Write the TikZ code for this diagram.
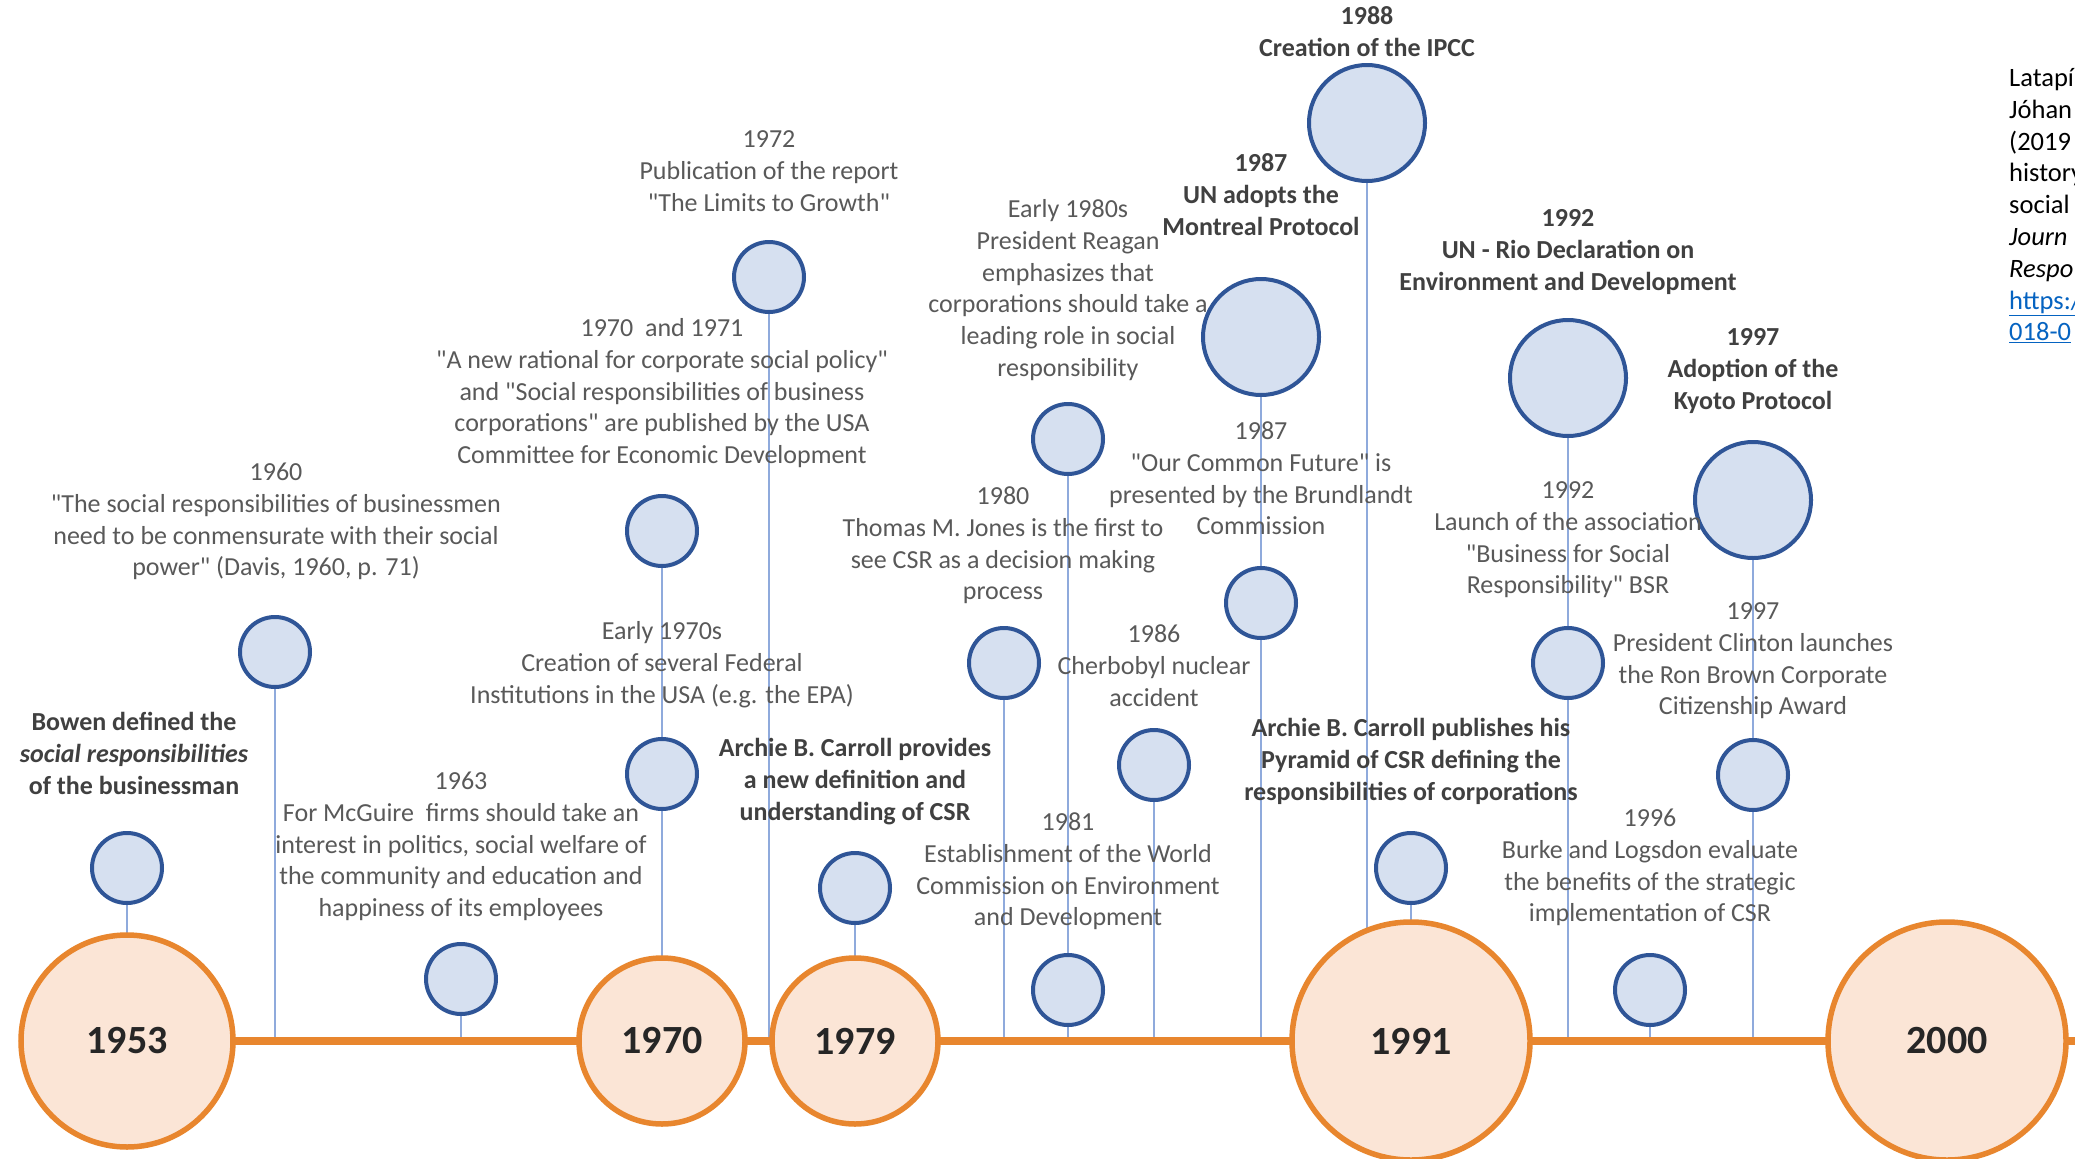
\documentclass[tikz,border=0pt]{standalone}
\usepackage{fontspec}
\setmainfont{Carlito}[Ligatures=TeXOff]
\newcommand{\dq}{\char34\relax}
\definecolor{evblue}{HTML}{2F5597}
\definecolor{evfill}{HTML}{D6E0F0}
\definecolor{orline}{HTML}{E8862E}
\definecolor{orfill}{HTML}{FBE5D6}
\definecolor{stemblue}{HTML}{8FAADC}
\definecolor{txtgray}{HTML}{595959}
\definecolor{boldgray}{HTML}{404040}
\definecolor{yrtext}{HTML}{262626}
\definecolor{linkblue}{HTML}{0563C1}
\pgfdeclarelayer{back}
\pgfdeclarelayer{bg}
\pgfsetlayers{back,bg,main}
\begin{document}
\begin{tikzpicture}[x=1pt,y=-1pt,
  ev/.style={circle, draw=evblue, fill=evfill, line width=4pt, minimum size=70pt, inner sep=0pt},
  bigev/.style={ev, minimum size=116pt},
  yr/.style={circle, draw=orline, fill=orfill, line width=5.5pt, inner sep=0pt, text=yrtext, font=\fontsize{40}{40}\selectfont\bfseries},
  stem/.style={draw=stemblue, line width=1.8pt},
  axisline/.style={draw=orline, line width=8pt},
  txt/.style={align=center, inner sep=0pt, anchor=north, text=txtgray, font=\fontsize{26}{31.8}\selectfont},
  btxt/.style={txt, text=boldgray, font=\fontsize{26}{31.8}\selectfont\bfseries},
  cite/.style={align=left, inner sep=0pt, anchor=north west, text=black, font=\fontsize{26.5}{31.8}\selectfont}]
\begin{pgfonlayer}{back}
\fill[white] (0,0) rectangle (2075,1159);
\end{pgfonlayer}
\useasboundingbox (0,0) rectangle (2075,1159);
\coordinate (axisR) at (2075,1041);

% year circles
\node[yr, minimum size=212pt] (y1953) at (127,1041) {1953};
\node[yr, minimum size=166pt] (y1970) at (662,1041) {1970};
\node[yr, minimum size=166pt] (y1979) at (855,1041) {1979};
\node[yr, minimum size=238pt] (y1991) at (1411,1041) {1991};
\node[yr, minimum size=238pt] (y2000) at (1947,1041) {2000};

% event circles
\node[ev] (bowen) at (127,868) {};
\node[ev] (e1960) at (275,652) {};
\node[ev] (e1963) at (461,979) {};
\node[ev] (e7071) at (662,531) {};
\node[ev] (e70s) at (662,774) {};
\node[ev] (e1972) at (769,277) {};
\node[ev] (e1979) at (855,888) {};
\node[ev] (e1980) at (1004,663) {};
\node[ev] (e80s) at (1068,439) {};
\node[ev] (e1981) at (1068,990) {};
\node[ev] (e1986) at (1154,765) {};
\node[bigev] (mont) at (1261,337) {};
\node[ev] (brund) at (1261,603) {};
\node[bigev] (ipcc) at (1367,123) {};
\node[ev] (e1991) at (1411,868) {};
\node[bigev] (rio) at (1568,378) {};
\node[ev] (bsr) at (1568,663) {};
\node[ev] (e1996) at (1650,990) {};
\node[bigev] (kyoto) at (1753,500) {};
\node[ev] (clint) at (1753,775) {};

\begin{pgfonlayer}{bg}
\foreach \n in {bowen,e1960,e1963,e7071,e1972,e1979,e1980,e80s,e1986,mont,ipcc,e1991,rio,e1996,kyoto}
  \draw[stem] (\n.south) -- (\n.south |- axisR);
\draw[axisline] (y1953.center) -- (axisR);
\end{pgfonlayer}

% texts
\node[btxt] (t1953) at (134,708) {\strut Bowen defined the\\ \textit{social responsibilities}\\ of the businessman};
\node[txt] (t1960) at (276,458) {\strut 1960\\ \dq The social responsibilities of businessmen\\ need to be conmensurate with their social\\ power\dq\ (Davis, 1960, p. 71)};
\node[txt] (t1963) at (461,767) {\strut 1963\\ For McGuire~ firms should take an\\ interest in politics, social welfare of\\ the community and education and\\ happiness of its employees};
\node[txt] (t7071) at (662,314) {\strut 1970~ and 1971\\ \dq A new rational for corporate social policy\dq\\ and \dq Social responsibilities of business\\ corporations\dq\ are published by the USA\\ Committee for Economic Development};
\node[txt] (t70s) at (662,617) {\strut Early 1970s\\ Creation of several Federal\\ Institutions in the USA (e.g. the EPA)};
\node[txt] (t1972) at (769,125) {\strut 1972\\ Publication of the report\\ \dq The Limits to Growth\dq};
\node[btxt] (t1979) at (855,734) {\strut Archie B. Carroll provides\\ a new definition and\\ understanding of CSR};
\node[txt] (t1980) at (1003,482) {\strut 1980\\ Thomas M. Jones is the first to\\ see CSR as a decision making\\ process};
\node[txt] (t80s) at (1068,195) {\strut Early 1980s\\ President Reagan\\ emphasizes that\\ corporations should take a\\ leading role in social\\ responsibility};
\node[txt] (t1981) at (1068,808) {\strut 1981\\ Establishment of the World\\ Commission on Environment\\ and Development};
\node[txt] (t1986) at (1154,620) {\strut 1986\\ Cherbobyl nuclear\\ accident};
\node[btxt] (tmont) at (1261,149) {\strut 1987\\ UN adopts the\\ Montreal Protocol};
\node[txt] (tbrund) at (1261,417) {\strut 1987\\ \dq Our Common Future\dq\ is\\ presented by the Brundlandt\\ Commission};
\node[btxt] (tipcc) at (1367,2) {\strut 1988\\ Creation of the IPCC};
\node[btxt] (t1991) at (1411,714) {\strut Archie B. Carroll publishes his\\ Pyramid of CSR defining the\\ responsibilities of corporations};
\node[btxt] (trio) at (1568,204) {\strut 1992\\ UN - Rio Declaration on\\ Environment and Development};
\node[txt] (tbsr) at (1568,476) {\strut 1992\\ Launch of the association\\ \dq Business for Social\\ Responsibility\dq\ BSR};
\node[txt] (t1996) at (1650,804) {\strut 1996\\ Burke and Logsdon evaluate\\ the benefits of the strategic\\ implementation of CSR};
\node[btxt] (tkyoto) at (1753,323) {\strut 1997\\ Adoption of the\\ Kyoto Protocol};
\node[txt] (tclint) at (1753,597) {\strut 1997\\ President Clinton launches\\ the Ron Brown Corporate\\ Citizenship Award};

% citation
\node[cite] (cite) at (2009,64) {\strut Latapí\\ Jóhan\\ (2019\\ history\\ social\\ \textit{Journ}\\ \textit{Respo}\\ \textcolor{linkblue}{\underline{https:/}}\\ \textcolor{linkblue}{\underline{018-0}}};
\end{tikzpicture}
\end{document}
